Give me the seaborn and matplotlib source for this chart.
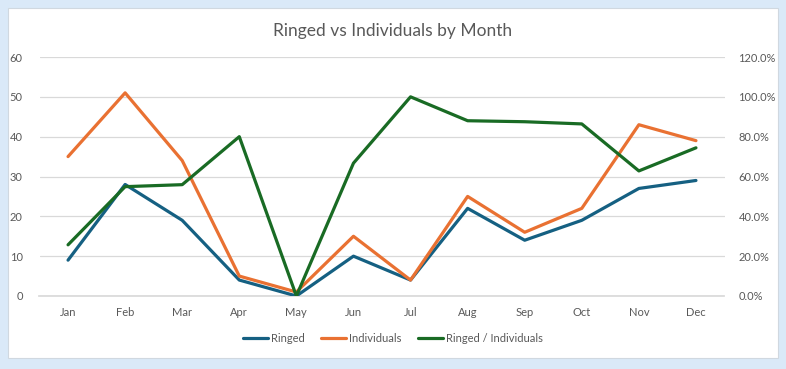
import matplotlib
matplotlib.use("Agg")
import matplotlib.pyplot as plt
import seaborn as sns
import pandas as pd
from matplotlib.patches import Rectangle
from matplotlib.ticker import PercentFormatter, MultipleLocator
from matplotlib.lines import Line2D

months = ["Jan", "Feb", "Mar", "Apr", "May", "Jun", "Jul", "Aug", "Sep", "Oct", "Nov", "Dec"]
ringed = [9, 28, 19, 4, 0, 10, 4, 22, 14, 19, 27, 29]
individuals = [35, 51, 34, 5, 1, 15, 4, 25, 16, 22, 43, 39]
ratio = [25.7, 54.9, 55.9, 80.0, 0.0, 66.7, 100.0, 88.0, 87.5, 86.4, 62.8, 74.4]

sns.set_theme(style="white")
plt.rcParams['font.family'] = ['Lato', 'DejaVu Sans']

c_r, c_i, c_g = "#156082", "#E97132", "#196B24"
txt = "#595959"

df = pd.DataFrame({"x": range(len(months)), "Ringed": ringed, "Individuals": individuals, "Ratio": ratio})

fig = plt.figure(figsize=(7.86, 3.69), dpi=100)
fig.patch.set_facecolor("#DAE9F8")
fig.patches.append(Rectangle((8/786, 1-358/369), 770/786, 350/369, transform=fig.transFigure,
                             facecolor="white", edgecolor="#D0D8E0", linewidth=0.8, zorder=-10))

ax = fig.add_axes([39.5/786, 1-296/369, 685/786, 239/369])
ax.set_facecolor("none")
ax2 = ax.twinx()
ax2.set_facecolor("none")

sns.lineplot(data=df, x="x", y="Ringed", ax=ax, color=c_r, linewidth=2.3, zorder=3)
sns.lineplot(data=df, x="x", y="Individuals", ax=ax, color=c_i, linewidth=2.3, zorder=3)
sns.lineplot(data=df, x="x", y="Ratio", ax=ax2, color=c_g, linewidth=2.3, zorder=3)

ax.set_xlim(-0.5, 11.5)
ax.set_ylim(0, 60)
ax2.set_ylim(0, 120)
ax.yaxis.set_major_locator(MultipleLocator(10))
ax2.yaxis.set_major_locator(MultipleLocator(20))
ax2.yaxis.set_major_formatter(PercentFormatter(decimals=1))
ax.set_xticks(range(len(months)))
ax.set_xticklabels(months)
ax.grid(axis="y", color="#D9D9D9", linewidth=0.9)
ax.set_axisbelow(True)
for a in (ax, ax2):
    for s in a.spines.values():
        s.set_visible(False)
    a.set_xlabel("")
    a.set_ylabel("")
    a.tick_params(length=0, labelsize=8, labelcolor=txt)
ax.spines["bottom"].set_visible(True)
ax.spines["bottom"].set_color("#D9D9D9")
ax.tick_params(axis="y", pad=12)
ax.tick_params(axis="x", pad=8)
ax2.tick_params(axis="y", pad=10)

fig.text(0.5, 1-31/369, "Ringed vs Individuals by Month", ha="center", va="center",
         fontsize=12.5, color=txt)

handles = [Line2D([], [], color=c_r, lw=2.3), Line2D([], [], color=c_i, lw=2.3), Line2D([], [], color=c_g, lw=2.3)]
fig.legend(handles, ["Ringed", "Individuals", "Ringed / Individuals"], loc="center",
           bbox_to_anchor=(0.5, 1-338/369), ncol=3, frameon=False, fontsize=8,
           labelcolor=txt, handlelength=2.2, handletextpad=0.3, columnspacing=1.5)

fig.savefig("out.png", dpi=100, facecolor=fig.get_facecolor())
